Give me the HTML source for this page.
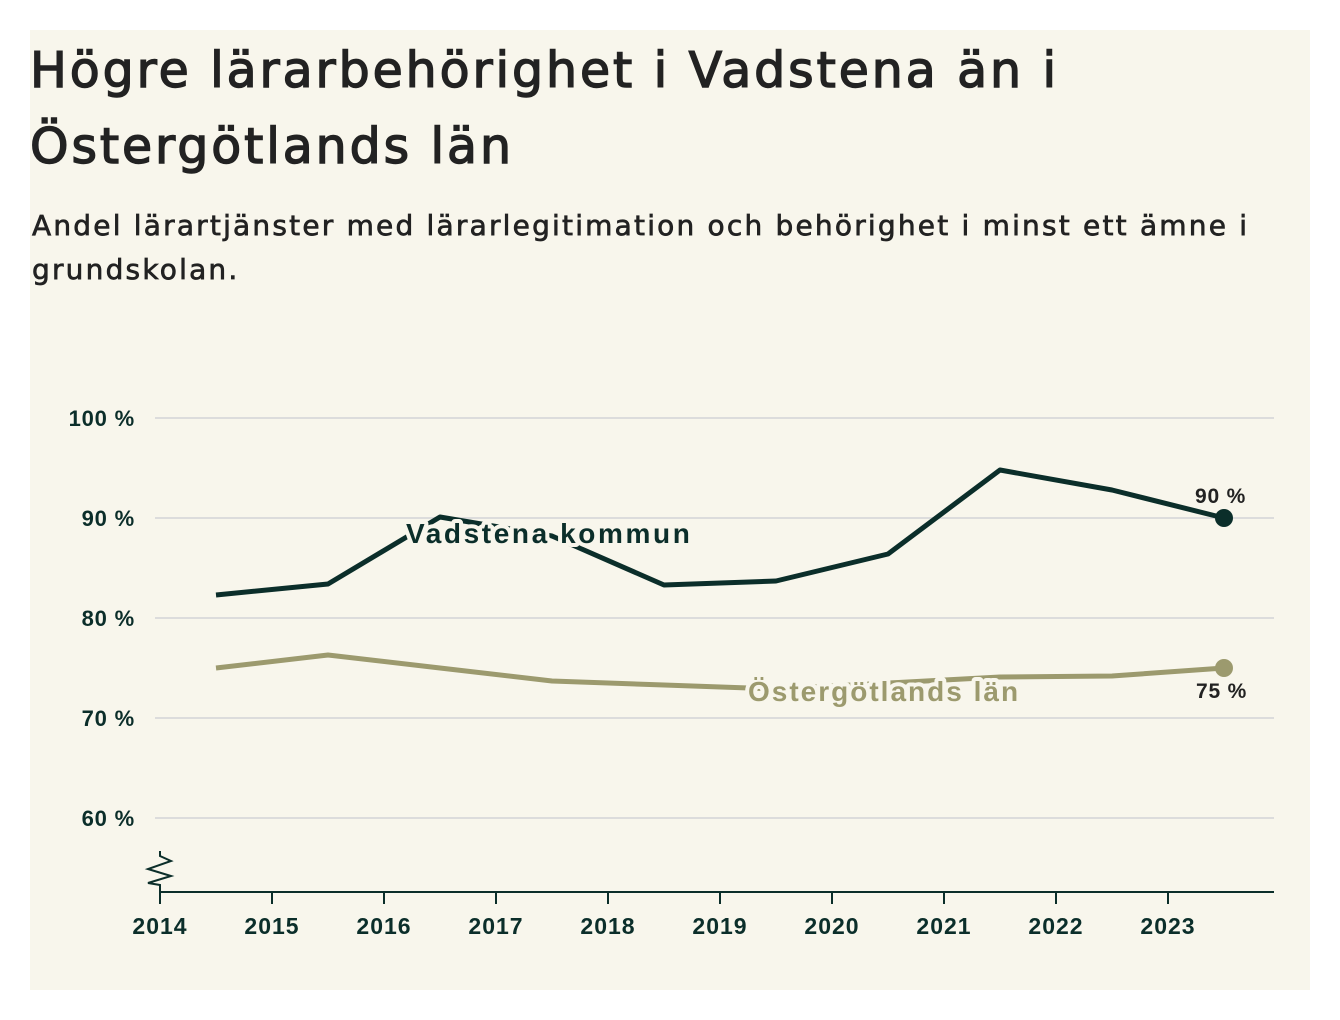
<!DOCTYPE html>
<html><head><meta charset="utf-8">
<style>
body{margin:0;background:#fff;width:1340px;height:1020px;overflow:hidden;font-family:"Liberation Sans",sans-serif;}
#panel{position:absolute;left:30px;top:30px;width:1280px;height:960px;background:#f8f6ec;}
h1{position:absolute;left:30px;top:33px;margin:0;font-family:"DejaVu Sans",sans-serif;font-size:49px;line-height:76px;font-weight:normal;color:#222;letter-spacing:2.9px;-webkit-text-stroke:1.4px #222;white-space:nowrap;}
.sub{position:absolute;left:32px;top:204px;margin:0;font-family:"DejaVu Sans",sans-serif;font-size:28px;line-height:44px;color:#222;letter-spacing:2.2px;-webkit-text-stroke:0.7px #222;width:1260px;}
svg{position:absolute;left:0;top:0;}
</style></head><body>
<div id="panel"></div>
<h1>Högre lärarbehörighet i Vadstena än i<br>Östergötlands län</h1>
<p class="sub">Andel lärartjänster med lärarlegitimation och behörighet i minst ett ämne i<br>grundskolan.</p>
<svg id="chart" width="1340" height="1020"></svg>
<script>
const years=[2014.5,2015.5,2016.5,2017.5,2018.5,2019.5,2020.5,2021.5,2022.5,2023.5];
const vadstena=[82.3,83.4,90.1,88.2,83.3,83.7,86.4,94.8,92.8,90];
const lan=[75,76.3,75,73.7,73.3,72.9,73.5,74.1,74.2,75];
const yTicks=[60,70,80,90,100];
const xTicks=[2014,2015,2016,2017,2018,2019,2020,2021,2022,2023];
const NS='http://www.w3.org/2000/svg';
const svg=document.getElementById('chart');
const X=v=>160+(v-2014)*112;
const Y=v=>418+(100-v)*10;
function mk(t,a,parent){const e=document.createElementNS(NS,t);for(const k in a)e.setAttribute(k,a[k]);(parent||svg).appendChild(e);return e;}
const font='"Liberation Sans",sans-serif';
yTicks.forEach(t=>{
 const g=mk('line',{x1:155,x2:1274,y1:Y(t),y2:Y(t),stroke:'#dcdcdc','stroke-width':2});
 
 
 const l=mk('text',{x:135,y:Y(t)+8,'text-anchor':'end','font-size':22,fill:'#0b2e2a','font-family':font,'font-weight':'bold','letter-spacing':0.8});
 l.textContent=t+' %';
 
 
});
const ax=mk('line',{x1:160,x2:1274,y1:892,y2:892,stroke:'#0b2e2a','stroke-width':2});


const zz=mk('path',{d:'M160 851 L160 856 L171 861 L148 869 L171 876 L148 883 L160 885 L160 892',fill:'none',stroke:'#0b2e2a','stroke-width':2});


xTicks.forEach(t=>{
 const k=mk('line',{x1:X(t),x2:X(t),y1:892,y2:904,stroke:'#0b2e2a','stroke-width':2});
 
 
 const l=mk('text',{x:X(t),y:934,'text-anchor':'middle','font-size':23,fill:'#0b2e2a','font-family':font,'font-weight':'bold','letter-spacing':1});
 l.textContent=t;
 
 
});
function series(vals,color,name){
 const d=vals.map((v,i)=>(i?'L':'M')+X(years[i])+' '+Y(v)).join(' ');
 const p=mk('path',{d:d,fill:'none',stroke:color,'stroke-width':5,'stroke-linejoin':'round'});
 
 
 const n=vals.length-1;
 const c=mk('circle',{cx:X(years[n]),cy:Y(vals[n]),r:9,fill:color});
 
 
}
series(lan,'#9c9a6e','lan');
series(vadstena,'#0b2e2a','vadstena');
function label(txt,x,y,color,name,size,ls){
 const t=mk('text',{x:x,y:y,'font-size':size,fill:color,'font-family':font,'font-weight':'bold','letter-spacing':ls,stroke:'#f8f6ec','stroke-width':8,'paint-order':'stroke','stroke-linejoin':'round'});
 t.textContent=txt;
 
 
}
label('Vadstena kommun',406,543,'#0b2e2a','vadstena-series-label',28,2.6);
label('Östergötlands län',748,701,'#9c9a6e','lan-series-label',28,2);
label(vadstena[9]+' %',1195,503,'#222','vadstena-end-value',21,0.8);
label(lan[9]+' %',1196,698,'#222','lan-end-value',21,0.8);
</script>
</body></html>
